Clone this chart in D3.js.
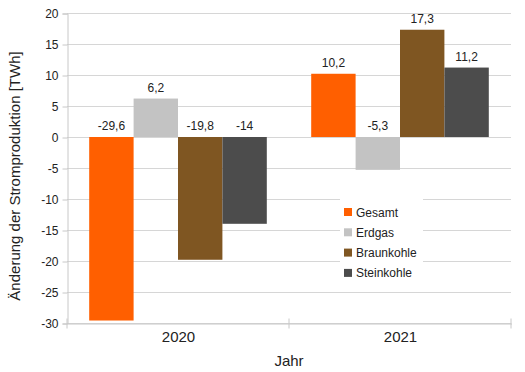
<!DOCTYPE html>
<html><head><meta charset="utf-8">
<script src="https://cdn.jsdelivr.net/npm/d3@7"></script>
<style>body{margin:0;background:#fff}svg{display:block;font-family:"Liberation Sans",Arial,sans-serif}</style>
</head><body><svg id="c" width="525" height="372"></svg>
<script>
const years = ["2020", "2021"];
const seriesNames = ["Gesamt", "Erdgas", "Braunkohle", "Steinkohle"];
const gesamt = [-29.6, 10.2];
const erdgas = [6.2, -5.3];
const braunkohle = [-19.8, 17.3];
const steinkohle = [-14, 11.2];
const yTicks = [20, 15, 10, 5, 0, -5, -10, -15, -20, -25, -30];
const colors = ["#ff5f00", "#c3c3c3", "#7f5622", "#4c4c4c"];
const values = [gesamt, erdgas, braunkohle, steinkohle];

const svg = d3.select("#c");
const L = 67, R = 511, T = 13, B = 323;
const y = d3.scaleLinear().domain([-30, 20]).range([B, T]);
const x0 = d3.scaleBand().domain(years).range([L, R]).paddingInner(0).paddingOuter(0);
const x1 = d3.scaleBand().domain(seriesNames).range([0, x0.bandwidth()]).paddingOuter(0.5).paddingInner(0);

// grid
svg.append("g").selectAll("line").data(yTicks).join("line")
  .attr("x1", L).attr("x2", R).attr("y1", d => y(d) + 0.5).attr("y2", d => y(d) + 0.5)
  .attr("stroke", "#d6d6d6").attr("stroke-width", 1);

// y axis
const yAxis = d3.axisLeft(y).tickValues(yTicks).tickSize(5).tickPadding(4).tickFormat(d => d);
const ga = svg.append("g").attr("transform", `translate(${L + 0.5},0.5)`).call(yAxis);
ga.select(".domain").attr("stroke", "#c8c8c8");
ga.selectAll(".tick line").attr("stroke", "#c8c8c8");
ga.selectAll("text").attr("fill", "#222").style("font-size", "12px").attr("font-family", "Liberation Sans, Arial, sans-serif");

// x axis
const xAxis = d3.axisBottom(x0).tickSize(0).tickPadding(8);
const gx = svg.append("g").attr("transform", `translate(0.5,${B + 0.5})`).call(xAxis);
gx.select(".domain").attr("stroke", "#c8c8c8");
gx.selectAll("text").attr("fill", "#222").style("font-size", "15px").attr("font-family", "Liberation Sans, Arial, sans-serif");
gx.selectAll(".xb").data([L, (L + R) / 2, R]).join("line").attr("class", "xb")
  .attr("x1", d => d - 0.5).attr("x2", d => d - 0.5).attr("y1", -5).attr("y2", 5).attr("stroke", "#c8c8c8");

// bars
const flat = [];
seriesNames.forEach((s, i) => years.forEach((yr, j) => flat.push({s, i, yr, v: values[i][j]})));
svg.append("g").selectAll("rect").data(flat).join("rect")
  .attr("x", d => x0(d.yr) + x1(d.s))
  .attr("width", x1.bandwidth())
  .attr("y", d => y(Math.max(0, d.v)))
  .attr("height", d => Math.abs(y(d.v) - y(0)))
  .attr("fill", d => colors[d.i]);

// labels
svg.append("g").selectAll("text").data(flat).join("text")
  .attr("x", d => x0(d.yr) + x1(d.s) + x1.bandwidth() / 2)
  .attr("y", d => y(Math.max(0, d.v)) - 7)
  .attr("text-anchor", "middle").attr("fill", "#222").style("font-size", "12px")
  .text(d => String(d.v).replace(".", ","));

// legend
const lg = svg.append("g");
lg.append("rect").attr("x", 340).attr("y", 196).attr("width", 83).attr("height", 88).attr("fill", "#fff");
seriesNames.forEach((s, i) => {
  const yy = 212 + i * 20.3;
  lg.append("rect").attr("x", 344).attr("y", yy - 4).attr("width", 8).attr("height", 8).attr("fill", colors[i]);
  lg.append("text").attr("x", 356).attr("y", yy + 4.5).attr("fill", "#222").style("font-size", "12px").text(s);
});

// axis titles
svg.append("text").attr("transform", `translate(20,${(T + B) / 2 + 8}) rotate(-90)`)
  .attr("text-anchor", "middle").attr("fill", "#222").style("font-size", "15px").text("Änderung der Stromproduktion [TWh]");
svg.append("text").attr("x", (L + R) / 2).attr("y", 366).attr("text-anchor", "middle")
  .attr("fill", "#222").style("font-size", "15px").text("Jahr");
</script></body></html>
